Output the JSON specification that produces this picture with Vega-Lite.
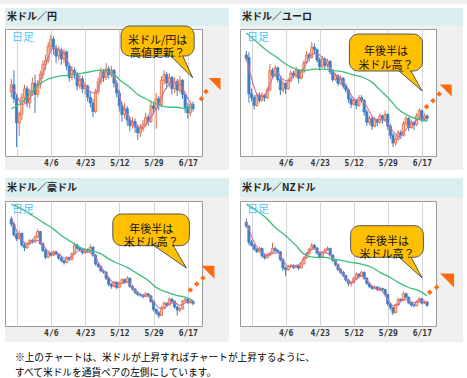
{
"$schema": "https://vega.github.io/schema/vega-lite/v6.json",
"padding": 0,
"background": "#f0f0f0",
"config": {"view": {"stroke": null}, "font": "Noto Sans CJK JP"},
"title": {"text": ["※上のチャートは、米ドルが上昇すればチャートが上昇するように、", "　すべて米ドルを通貨ペアの左側にしています。"], "orient": "bottom", "anchor": "start", "offset": -29, "dx": 15, "baseline": "top", "lineHeight": 15, "font": "Noto Sans CJK JP", "fontSize": 9.7, "fontWeight": "normal", "color": "#000000"},
"datasets": {
"c1": [
{"i":0,"o":97.4,"h":98.3,"l":97.0,"c":97.9},{"i":1,"o":97.9,"h":98.9,"l":96.6,"c":96.9},{"i":2,"o":96.9,"h":97.2,"l":93.5,"c":95.2},{"i":3,"o":95.2,"h":96.0,"l":94.3,"c":95.8},{"i":4,"o":95.8,"h":97.3,"l":95.4,"c":97.0},{"i":5,"o":97.0,"h":97.9,"l":96.6,"c":97.6},{"i":6,"o":97.6,"h":97.8,"l":96.3,"c":96.6},{"i":7,"o":96.6,"h":97.6,"l":96.2,"c":97.4},{"i":8,"o":97.4,"h":98.4,"l":97.1,"c":98.0},{"i":9,"o":98.0,"h":98.6,"l":95.9,"c":97.2},
{"i":10,"o":97.2,"h":98.2,"l":97.0,"c":97.9},{"i":11,"o":97.9,"h":98.9,"l":97.6,"c":98.6},{"i":12,"o":98.6,"h":99.6,"l":98.3,"c":99.3},{"i":13,"o":99.3,"h":100.0,"l":98.9,"c":99.6},{"i":14,"o":99.6,"h":100.9,"l":99.4,"c":100.6},{"i":15,"o":100.6,"h":101.4,"l":100.2,"c":101.1},{"i":16,"o":101.1,"h":101.3,"l":100.0,"c":100.4},{"i":17,"o":100.4,"h":100.7,"l":99.4,"c":99.9},{"i":18,"o":99.9,"h":100.6,"l":99.6,"c":100.3},{"i":19,"o":100.3,"h":100.5,"l":99.3,"c":99.7},
{"i":20,"o":99.7,"h":100.4,"l":99.4,"c":100.2},{"i":21,"o":100.2,"h":100.3,"l":98.9,"c":99.2},{"i":22,"o":99.2,"h":99.4,"l":98.1,"c":98.4},{"i":23,"o":98.4,"h":99.2,"l":98.2,"c":98.9},{"i":24,"o":98.9,"h":99.1,"l":98.3,"c":98.6},{"i":25,"o":98.6,"h":98.8,"l":97.5,"c":97.8},{"i":26,"o":97.8,"h":98.6,"l":97.6,"c":98.3},{"i":27,"o":98.3,"h":98.5,"l":97.3,"c":97.6},{"i":28,"o":97.6,"h":98.1,"l":97.2,"c":97.8},{"i":29,"o":97.8,"h":97.9,"l":96.7,"c":97.0},
{"i":30,"o":97.0,"h":97.4,"l":96.3,"c":96.6},{"i":31,"o":96.6,"h":96.9,"l":95.6,"c":96.0},{"i":32,"o":96.0,"h":97.6,"l":95.9,"c":97.4},{"i":33,"o":97.4,"h":98.4,"l":97.2,"c":98.1},{"i":34,"o":98.1,"h":99.1,"l":97.9,"c":98.8},{"i":35,"o":98.8,"h":99.0,"l":98.1,"c":98.4},{"i":36,"o":98.4,"h":99.4,"l":98.2,"c":99.0},{"i":37,"o":99.0,"h":99.2,"l":98.3,"c":98.6},{"i":38,"o":98.6,"h":99.2,"l":98.4,"c":98.9},{"i":39,"o":98.9,"h":99.0,"l":97.7,"c":98.0},
{"i":40,"o":98.0,"h":98.2,"l":97.0,"c":97.3},{"i":41,"o":97.3,"h":97.5,"l":96.0,"c":96.4},{"i":42,"o":96.4,"h":96.7,"l":95.3,"c":95.8},{"i":43,"o":95.8,"h":96.6,"l":95.5,"c":96.2},{"i":44,"o":96.2,"h":96.4,"l":95.0,"c":95.4},{"i":45,"o":95.4,"h":95.7,"l":94.6,"c":95.0},{"i":46,"o":95.0,"h":95.6,"l":94.8,"c":95.3},{"i":47,"o":95.3,"h":95.5,"l":94.5,"c":94.9},{"i":48,"o":94.9,"h":95.1,"l":94.0,"c":94.5},{"i":49,"o":94.5,"h":95.1,"l":94.2,"c":94.8},
{"i":50,"o":94.8,"h":95.4,"l":94.6,"c":95.1},{"i":51,"o":95.1,"h":95.9,"l":94.9,"c":95.6},{"i":52,"o":95.6,"h":95.8,"l":95.0,"c":95.3},{"i":53,"o":95.3,"h":96.8,"l":95.2,"c":96.4},{"i":54,"o":96.4,"h":96.7,"l":95.8,"c":96.2},{"i":55,"o":96.2,"h":97.3,"l":94.8,"c":96.9},{"i":56,"o":96.9,"h":97.1,"l":96.1,"c":96.5},{"i":57,"o":96.5,"h":98.5,"l":96.3,"c":98.2},{"i":58,"o":98.2,"h":98.9,"l":97.9,"c":98.6},{"i":59,"o":98.6,"h":98.8,"l":97.6,"c":98.0},
{"i":60,"o":98.0,"h":98.7,"l":97.7,"c":98.4},{"i":61,"o":98.4,"h":98.5,"l":97.2,"c":97.6},{"i":62,"o":97.6,"h":98.4,"l":97.3,"c":98.1},{"i":63,"o":98.1,"h":98.3,"l":97.1,"c":97.5},{"i":64,"o":97.5,"h":98.5,"l":97.3,"c":98.2},{"i":65,"o":98.2,"h":98.3,"l":96.9,"c":97.2},{"i":66,"o":97.2,"h":97.4,"l":95.9,"c":96.3},{"i":67,"o":96.3,"h":96.6,"l":95.5,"c":95.9},{"i":68,"o":95.9,"h":96.7,"l":95.7,"c":96.5},{"i":69,"o":96.5,"h":96.7,"l":96.0,"c":96.2}
],
"p1": [{"i":0,"v":97.7},{"i":2,"v":97.2},{"i":4,"v":96.5},{"i":6,"v":96.6},{"i":8,"v":97.3},{"i":10,"v":97.9},{"i":12,"v":98.7},{"i":14,"v":99.8},{"i":16,"v":100.5},{"i":18,"v":100.4},{"i":20,"v":100.1},{"i":22,"v":99.3},{"i":24,"v":98.7},{"i":26,"v":98.2},{"i":28,"v":97.8},{"i":30,"v":97.4},{"i":32,"v":97.3},{"i":34,"v":98.3},{"i":36,"v":98.8},{"i":38,"v":98.8},{"i":40,"v":97.9},{"i":42,"v":96.5},{"i":44,"v":95.8},{"i":46,"v":95.2},{"i":48,"v":94.9},{"i":50,"v":94.9},{"i":52,"v":95.3},{"i":54,"v":95.9},{"i":56,"v":96.5},{"i":58,"v":97.4},{"i":60,"v":97.9},{"i":62,"v":98.0},{"i":64,"v":97.9},{"i":66,"v":97.3},{"i":68,"v":96.6},{"i":69,"v":96.4}],
"g1": [{"i":0,"v":96.2},{"i":3,"v":96.5},{"i":6,"v":97.0},{"i":9,"v":97.6},{"i":12,"v":98.1},{"i":15,"v":98.35},{"i":18,"v":98.5},{"i":21,"v":98.55},{"i":24,"v":98.65},{"i":27,"v":98.7},{"i":30,"v":98.8},{"i":33,"v":98.9},{"i":36,"v":98.9},{"i":39,"v":98.6},{"i":42,"v":98.1},{"i":45,"v":97.7},{"i":48,"v":97.2},{"i":51,"v":96.9},{"i":54,"v":96.6},{"i":57,"v":96.4},{"i":60,"v":96.3},{"i":63,"v":96.3},{"i":66,"v":96.2},{"i":69,"v":96.4}],
"c2": [
{"i":0,"o":0.768,"h":0.771,"l":0.763,"c":0.765},{"i":1,"o":0.766,"h":0.770,"l":0.731,"c":0.738},{"i":2,"o":0.738,"h":0.742,"l":0.732,"c":0.735},{"i":3,"o":0.735,"h":0.737,"l":0.726,"c":0.729},{"i":4,"o":0.729,"h":0.739,"l":0.728,"c":0.737},{"i":5,"o":0.737,"h":0.739,"l":0.731,"c":0.733},{"i":6,"o":0.733,"h":0.739,"l":0.732,"c":0.737},{"i":7,"o":0.737,"h":0.738,"l":0.732,"c":0.735},{"i":8,"o":0.735,"h":0.743,"l":0.734,"c":0.741},{"i":9,"o":0.741,"h":0.761,"l":0.740,"c":0.756},
{"i":10,"o":0.756,"h":0.758,"l":0.750,"c":0.752},{"i":11,"o":0.752,"h":0.760,"l":0.751,"c":0.758},{"i":12,"o":0.758,"h":0.759,"l":0.747,"c":0.749},{"i":13,"o":0.749,"h":0.751,"l":0.737,"c":0.741},{"i":14,"o":0.741,"h":0.748,"l":0.739,"c":0.746},{"i":15,"o":0.746,"h":0.747,"l":0.738,"c":0.742},{"i":16,"o":0.742,"h":0.750,"l":0.741,"c":0.748},{"i":17,"o":0.748,"h":0.756,"l":0.747,"c":0.754},{"i":18,"o":0.754,"h":0.756,"l":0.750,"c":0.752},{"i":19,"o":0.752,"h":0.759,"l":0.750,"c":0.756},
{"i":20,"o":0.756,"h":0.757,"l":0.746,"c":0.750},{"i":21,"o":0.750,"h":0.757,"l":0.749,"c":0.755},{"i":22,"o":0.755,"h":0.764,"l":0.754,"c":0.762},{"i":23,"o":0.762,"h":0.771,"l":0.761,"c":0.768},{"i":24,"o":0.768,"h":0.770,"l":0.763,"c":0.766},{"i":25,"o":0.766,"h":0.778,"l":0.765,"c":0.774},{"i":26,"o":0.774,"h":0.777,"l":0.769,"c":0.772},{"i":27,"o":0.772,"h":0.773,"l":0.762,"c":0.764},{"i":28,"o":0.764,"h":0.766,"l":0.756,"c":0.759},{"i":29,"o":0.759,"h":0.767,"l":0.758,"c":0.765},
{"i":30,"o":0.765,"h":0.766,"l":0.757,"c":0.760},{"i":31,"o":0.760,"h":0.765,"l":0.758,"c":0.763},{"i":32,"o":0.763,"h":0.764,"l":0.753,"c":0.755},{"i":33,"o":0.755,"h":0.757,"l":0.747,"c":0.749},{"i":34,"o":0.749,"h":0.754,"l":0.748,"c":0.752},{"i":35,"o":0.752,"h":0.753,"l":0.744,"c":0.746},{"i":36,"o":0.746,"h":0.752,"l":0.745,"c":0.750},{"i":37,"o":0.750,"h":0.751,"l":0.742,"c":0.744},{"i":38,"o":0.744,"h":0.746,"l":0.739,"c":0.741},{"i":39,"o":0.741,"h":0.742,"l":0.731,"c":0.734},
{"i":40,"o":0.734,"h":0.736,"l":0.727,"c":0.730},{"i":41,"o":0.730,"h":0.735,"l":0.729,"c":0.733},{"i":42,"o":0.733,"h":0.734,"l":0.726,"c":0.729},{"i":43,"o":0.729,"h":0.737,"l":0.728,"c":0.735},{"i":44,"o":0.735,"h":0.737,"l":0.731,"c":0.733},{"i":45,"o":0.733,"h":0.734,"l":0.721,"c":0.724},{"i":46,"o":0.724,"h":0.726,"l":0.713,"c":0.716},{"i":47,"o":0.716,"h":0.721,"l":0.714,"c":0.719},{"i":48,"o":0.719,"h":0.720,"l":0.710,"c":0.713},{"i":49,"o":0.713,"h":0.720,"l":0.712,"c":0.718},
{"i":50,"o":0.718,"h":0.719,"l":0.713,"c":0.716},{"i":51,"o":0.716,"h":0.723,"l":0.715,"c":0.721},{"i":52,"o":0.721,"h":0.722,"l":0.715,"c":0.718},{"i":53,"o":0.718,"h":0.725,"l":0.717,"c":0.722},{"i":54,"o":0.722,"h":0.723,"l":0.710,"c":0.713},{"i":55,"o":0.713,"h":0.715,"l":0.703,"c":0.706},{"i":56,"o":0.706,"h":0.708,"l":0.697,"c":0.700},{"i":57,"o":0.700,"h":0.705,"l":0.698,"c":0.703},{"i":58,"o":0.703,"h":0.710,"l":0.702,"c":0.708},{"i":59,"o":0.708,"h":0.710,"l":0.703,"c":0.706},
{"i":60,"o":0.706,"h":0.717,"l":0.705,"c":0.715},{"i":61,"o":0.715,"h":0.721,"l":0.713,"c":0.719},{"i":62,"o":0.719,"h":0.720,"l":0.709,"c":0.712},{"i":63,"o":0.712,"h":0.718,"l":0.711,"c":0.716},{"i":64,"o":0.716,"h":0.717,"l":0.710,"c":0.714},{"i":65,"o":0.714,"h":0.723,"l":0.713,"c":0.721},{"i":66,"o":0.721,"h":0.727,"l":0.719,"c":0.725},{"i":67,"o":0.725,"h":0.726,"l":0.716,"c":0.718},{"i":68,"o":0.718,"h":0.723,"l":0.717,"c":0.721},{"i":69,"o":0.721,"h":0.722,"l":0.717,"c":0.719}
],
"p2": [{"i":0,"v":0.766},{"i":2,"v":0.750},{"i":4,"v":0.738},{"i":6,"v":0.736},{"i":8,"v":0.740},{"i":10,"v":0.750},{"i":12,"v":0.754},{"i":14,"v":0.749},{"i":16,"v":0.748},{"i":18,"v":0.752},{"i":20,"v":0.753},{"i":22,"v":0.758},{"i":24,"v":0.766},{"i":26,"v":0.769},{"i":28,"v":0.768},{"i":30,"v":0.763},{"i":32,"v":0.758},{"i":34,"v":0.753},{"i":36,"v":0.749},{"i":38,"v":0.745},{"i":40,"v":0.737},{"i":42,"v":0.733},{"i":44,"v":0.733},{"i":46,"v":0.728},{"i":48,"v":0.721},{"i":50,"v":0.718},{"i":52,"v":0.718},{"i":54,"v":0.715},{"i":56,"v":0.709},{"i":58,"v":0.705},{"i":60,"v":0.708},{"i":62,"v":0.713},{"i":64,"v":0.716},{"i":66,"v":0.719},{"i":68,"v":0.719},{"i":69,"v":0.719}],
"g2": [{"i":0,"v":0.785},{"i":4,"v":0.778},{"i":8,"v":0.771},{"i":11,"v":0.767},{"i":15,"v":0.761},{"i":19,"v":0.757},{"i":22,"v":0.756},{"i":26,"v":0.757},{"i":30,"v":0.757},{"i":33,"v":0.756},{"i":37,"v":0.755},{"i":40,"v":0.753},{"i":44,"v":0.751},{"i":48,"v":0.747},{"i":51,"v":0.741},{"i":55,"v":0.733},{"i":58,"v":0.726},{"i":62,"v":0.721},{"i":66,"v":0.718},{"i":69,"v":0.717}],
"c3": [
{"i":0,"o":1.505,"h":1.512,"l":1.482,"c":1.490},{"i":1,"o":1.490,"h":1.495,"l":1.452,"c":1.458},{"i":2,"o":1.458,"h":1.464,"l":1.440,"c":1.447},{"i":3,"o":1.447,"h":1.470,"l":1.444,"c":1.462},{"i":4,"o":1.462,"h":1.465,"l":1.422,"c":1.428},{"i":5,"o":1.428,"h":1.434,"l":1.410,"c":1.420},{"i":6,"o":1.420,"h":1.436,"l":1.417,"c":1.432},{"i":7,"o":1.432,"h":1.446,"l":1.428,"c":1.441},{"i":8,"o":1.441,"h":1.446,"l":1.432,"c":1.437},{"i":9,"o":1.437,"h":1.456,"l":1.434,"c":1.452},
{"i":10,"o":1.452,"h":1.475,"l":1.448,"c":1.468},{"i":11,"o":1.468,"h":1.470,"l":1.428,"c":1.432},{"i":12,"o":1.432,"h":1.436,"l":1.407,"c":1.412},{"i":13,"o":1.412,"h":1.416,"l":1.386,"c":1.392},{"i":14,"o":1.392,"h":1.409,"l":1.389,"c":1.404},{"i":15,"o":1.404,"h":1.407,"l":1.394,"c":1.398},{"i":16,"o":1.398,"h":1.412,"l":1.396,"c":1.408},{"i":17,"o":1.408,"h":1.411,"l":1.398,"c":1.402},{"i":18,"o":1.402,"h":1.404,"l":1.384,"c":1.389},{"i":19,"o":1.389,"h":1.393,"l":1.377,"c":1.382},
{"i":20,"o":1.382,"h":1.386,"l":1.370,"c":1.376},{"i":21,"o":1.376,"h":1.395,"l":1.374,"c":1.391},{"i":22,"o":1.391,"h":1.394,"l":1.381,"c":1.385},{"i":23,"o":1.385,"h":1.406,"l":1.383,"c":1.402},{"i":24,"o":1.402,"h":1.435,"l":1.400,"c":1.428},{"i":25,"o":1.428,"h":1.432,"l":1.414,"c":1.419},{"i":26,"o":1.419,"h":1.423,"l":1.409,"c":1.414},{"i":27,"o":1.414,"h":1.417,"l":1.400,"c":1.405},{"i":28,"o":1.405,"h":1.419,"l":1.403,"c":1.415},{"i":29,"o":1.415,"h":1.418,"l":1.405,"c":1.410},
{"i":30,"o":1.410,"h":1.430,"l":1.408,"c":1.422},{"i":31,"o":1.422,"h":1.424,"l":1.393,"c":1.398},{"i":32,"o":1.398,"h":1.401,"l":1.367,"c":1.372},{"i":33,"o":1.372,"h":1.376,"l":1.360,"c":1.365},{"i":34,"o":1.365,"h":1.368,"l":1.347,"c":1.352},{"i":35,"o":1.352,"h":1.356,"l":1.343,"c":1.348},{"i":36,"o":1.348,"h":1.351,"l":1.325,"c":1.330},{"i":37,"o":1.330,"h":1.334,"l":1.306,"c":1.312},{"i":38,"o":1.312,"h":1.316,"l":1.299,"c":1.306},{"i":39,"o":1.306,"h":1.322,"l":1.303,"c":1.318},
{"i":40,"o":1.318,"h":1.321,"l":1.298,"c":1.303},{"i":41,"o":1.303,"h":1.320,"l":1.301,"c":1.316},{"i":42,"o":1.316,"h":1.330,"l":1.313,"c":1.326},{"i":43,"o":1.326,"h":1.329,"l":1.314,"c":1.318},{"i":44,"o":1.318,"h":1.336,"l":1.316,"c":1.330},{"i":45,"o":1.330,"h":1.332,"l":1.302,"c":1.306},{"i":46,"o":1.306,"h":1.310,"l":1.293,"c":1.298},{"i":47,"o":1.298,"h":1.301,"l":1.283,"c":1.288},{"i":48,"o":1.288,"h":1.292,"l":1.277,"c":1.282},{"i":49,"o":1.282,"h":1.286,"l":1.275,"c":1.280},
{"i":50,"o":1.280,"h":1.283,"l":1.270,"c":1.276},{"i":51,"o":1.276,"h":1.290,"l":1.274,"c":1.284},{"i":52,"o":1.284,"h":1.287,"l":1.273,"c":1.278},{"i":53,"o":1.278,"h":1.280,"l":1.257,"c":1.262},{"i":54,"o":1.262,"h":1.265,"l":1.232,"c":1.238},{"i":55,"o":1.238,"h":1.241,"l":1.222,"c":1.228},{"i":56,"o":1.228,"h":1.233,"l":1.212,"c":1.220},{"i":57,"o":1.220,"h":1.247,"l":1.218,"c":1.242},{"i":58,"o":1.242,"h":1.262,"l":1.240,"c":1.256},{"i":59,"o":1.256,"h":1.259,"l":1.246,"c":1.251},
{"i":60,"o":1.251,"h":1.274,"l":1.249,"c":1.268},{"i":61,"o":1.268,"h":1.272,"l":1.257,"c":1.262},{"i":62,"o":1.262,"h":1.265,"l":1.240,"c":1.245},{"i":63,"o":1.245,"h":1.249,"l":1.220,"c":1.236},{"i":64,"o":1.236,"h":1.245,"l":1.230,"c":1.240},{"i":65,"o":1.240,"h":1.266,"l":1.238,"c":1.262},{"i":66,"o":1.262,"h":1.273,"l":1.259,"c":1.268},{"i":67,"o":1.268,"h":1.270,"l":1.254,"c":1.258},{"i":68,"o":1.258,"h":1.266,"l":1.255,"c":1.262},{"i":69,"o":1.262,"h":1.264,"l":1.250,"c":1.255}
],
"p3": [{"i":0,"v":1.510},{"i":2,"v":1.470},{"i":4,"v":1.443},{"i":6,"v":1.432},{"i":8,"v":1.438},{"i":10,"v":1.442},{"i":12,"v":1.428},{"i":14,"v":1.410},{"i":16,"v":1.402},{"i":18,"v":1.400},{"i":20,"v":1.390},{"i":22,"v":1.388},{"i":24,"v":1.404},{"i":26,"v":1.411},{"i":28,"v":1.408},{"i":30,"v":1.405},{"i":32,"v":1.392},{"i":34,"v":1.362},{"i":36,"v":1.343},{"i":38,"v":1.322},{"i":40,"v":1.310},{"i":42,"v":1.314},{"i":44,"v":1.318},{"i":46,"v":1.302},{"i":48,"v":1.286},{"i":50,"v":1.280},{"i":52,"v":1.278},{"i":54,"v":1.262},{"i":56,"v":1.243},{"i":58,"v":1.240},{"i":60,"v":1.255},{"i":62,"v":1.258},{"i":64,"v":1.250},{"i":66,"v":1.257},{"i":68,"v":1.263},{"i":69,"v":1.258}],
"g3": [{"i":0,"v":1.549},{"i":5,"v":1.530},{"i":8,"v":1.515},{"i":12,"v":1.495},{"i":16,"v":1.475},{"i":19,"v":1.456},{"i":23,"v":1.436},{"i":26,"v":1.421},{"i":30,"v":1.411},{"i":34,"v":1.402},{"i":37,"v":1.387},{"i":41,"v":1.372},{"i":44,"v":1.362},{"i":48,"v":1.343},{"i":52,"v":1.323},{"i":55,"v":1.303},{"i":59,"v":1.289},{"i":63,"v":1.279},{"i":66,"v":1.274},{"i":69,"v":1.264}],
"c4": [
{"i":0,"o":1.890,"h":1.905,"l":1.868,"c":1.875},{"i":1,"o":1.875,"h":1.880,"l":1.800,"c":1.812},{"i":2,"o":1.812,"h":1.822,"l":1.795,"c":1.800},{"i":3,"o":1.800,"h":1.806,"l":1.780,"c":1.785},{"i":4,"o":1.785,"h":1.790,"l":1.770,"c":1.776},{"i":5,"o":1.776,"h":1.795,"l":1.772,"c":1.788},{"i":6,"o":1.788,"h":1.792,"l":1.750,"c":1.760},{"i":7,"o":1.760,"h":1.765,"l":1.744,"c":1.752},{"i":8,"o":1.752,"h":1.768,"l":1.748,"c":1.762},{"i":9,"o":1.762,"h":1.776,"l":1.758,"c":1.770},
{"i":10,"o":1.770,"h":1.810,"l":1.766,"c":1.788},{"i":11,"o":1.788,"h":1.795,"l":1.774,"c":1.780},{"i":12,"o":1.780,"h":1.786,"l":1.770,"c":1.775},{"i":13,"o":1.775,"h":1.778,"l":1.738,"c":1.745},{"i":14,"o":1.745,"h":1.750,"l":1.700,"c":1.712},{"i":15,"o":1.712,"h":1.718,"l":1.680,"c":1.705},{"i":16,"o":1.705,"h":1.724,"l":1.702,"c":1.718},{"i":17,"o":1.718,"h":1.728,"l":1.712,"c":1.722},{"i":18,"o":1.722,"h":1.726,"l":1.708,"c":1.714},{"i":19,"o":1.714,"h":1.726,"l":1.710,"c":1.720},
{"i":20,"o":1.720,"h":1.724,"l":1.704,"c":1.712},{"i":21,"o":1.712,"h":1.734,"l":1.709,"c":1.728},{"i":22,"o":1.728,"h":1.758,"l":1.725,"c":1.752},{"i":23,"o":1.752,"h":1.774,"l":1.748,"c":1.768},{"i":24,"o":1.768,"h":1.790,"l":1.764,"c":1.785},{"i":25,"o":1.785,"h":1.810,"l":1.782,"c":1.800},{"i":26,"o":1.800,"h":1.806,"l":1.784,"c":1.790},{"i":27,"o":1.790,"h":1.794,"l":1.764,"c":1.770},{"i":28,"o":1.770,"h":1.774,"l":1.748,"c":1.755},{"i":29,"o":1.755,"h":1.778,"l":1.752,"c":1.772},
{"i":30,"o":1.772,"h":1.788,"l":1.768,"c":1.782},{"i":31,"o":1.782,"h":1.796,"l":1.778,"c":1.788},{"i":32,"o":1.788,"h":1.792,"l":1.756,"c":1.762},{"i":33,"o":1.762,"h":1.766,"l":1.736,"c":1.742},{"i":34,"o":1.742,"h":1.746,"l":1.718,"c":1.725},{"i":35,"o":1.725,"h":1.730,"l":1.700,"c":1.706},{"i":36,"o":1.706,"h":1.712,"l":1.688,"c":1.695},{"i":37,"o":1.695,"h":1.700,"l":1.676,"c":1.682},{"i":38,"o":1.682,"h":1.686,"l":1.658,"c":1.665},{"i":39,"o":1.665,"h":1.670,"l":1.642,"c":1.652},
{"i":40,"o":1.652,"h":1.662,"l":1.640,"c":1.655},{"i":41,"o":1.655,"h":1.678,"l":1.652,"c":1.672},{"i":42,"o":1.672,"h":1.694,"l":1.668,"c":1.688},{"i":43,"o":1.688,"h":1.692,"l":1.674,"c":1.680},{"i":44,"o":1.680,"h":1.702,"l":1.677,"c":1.695},{"i":45,"o":1.695,"h":1.698,"l":1.666,"c":1.672},{"i":46,"o":1.672,"h":1.676,"l":1.646,"c":1.652},{"i":47,"o":1.652,"h":1.656,"l":1.634,"c":1.640},{"i":48,"o":1.640,"h":1.644,"l":1.626,"c":1.632},{"i":49,"o":1.632,"h":1.644,"l":1.628,"c":1.638},
{"i":50,"o":1.638,"h":1.641,"l":1.622,"c":1.628},{"i":51,"o":1.628,"h":1.640,"l":1.625,"c":1.632},{"i":52,"o":1.632,"h":1.636,"l":1.622,"c":1.628},{"i":53,"o":1.628,"h":1.631,"l":1.600,"c":1.608},{"i":54,"o":1.608,"h":1.612,"l":1.565,"c":1.572},{"i":55,"o":1.572,"h":1.578,"l":1.548,"c":1.558},{"i":56,"o":1.558,"h":1.562,"l":1.528,"c":1.538},{"i":57,"o":1.538,"h":1.574,"l":1.535,"c":1.568},{"i":58,"o":1.568,"h":1.596,"l":1.564,"c":1.590},{"i":59,"o":1.590,"h":1.594,"l":1.578,"c":1.585},
{"i":60,"o":1.585,"h":1.620,"l":1.582,"c":1.612},{"i":61,"o":1.612,"h":1.616,"l":1.592,"c":1.598},{"i":62,"o":1.598,"h":1.601,"l":1.570,"c":1.576},{"i":63,"o":1.576,"h":1.580,"l":1.560,"c":1.568},{"i":64,"o":1.568,"h":1.574,"l":1.558,"c":1.565},{"i":65,"o":1.565,"h":1.586,"l":1.562,"c":1.580},{"i":66,"o":1.580,"h":1.598,"l":1.576,"c":1.592},{"i":67,"o":1.592,"h":1.595,"l":1.570,"c":1.575},{"i":68,"o":1.575,"h":1.586,"l":1.572,"c":1.580},{"i":69,"o":1.580,"h":1.583,"l":1.560,"c":1.566}
],
"p4": [{"i":0,"v":1.890},{"i":2,"v":1.835},{"i":4,"v":1.795},{"i":6,"v":1.775},{"i":8,"v":1.762},{"i":10,"v":1.768},{"i":12,"v":1.772},{"i":14,"v":1.742},{"i":16,"v":1.718},{"i":18,"v":1.718},{"i":20,"v":1.725},{"i":22,"v":1.748},{"i":24,"v":1.778},{"i":26,"v":1.786},{"i":28,"v":1.774},{"i":30,"v":1.773},{"i":32,"v":1.762},{"i":34,"v":1.738},{"i":36,"v":1.700},{"i":38,"v":1.670},{"i":40,"v":1.656},{"i":42,"v":1.668},{"i":44,"v":1.682},{"i":46,"v":1.665},{"i":48,"v":1.642},{"i":50,"v":1.628},{"i":52,"v":1.620},{"i":54,"v":1.590},{"i":56,"v":1.566},{"i":58,"v":1.572},{"i":60,"v":1.590},{"i":62,"v":1.584},{"i":64,"v":1.577},{"i":66,"v":1.584},{"i":68,"v":1.578},{"i":69,"v":1.572}],
"g4": [{"i":0,"v":1.961},{"i":4,"v":1.935},{"i":8,"v":1.903},{"i":11,"v":1.870},{"i":15,"v":1.838},{"i":19,"v":1.799},{"i":22,"v":1.766},{"i":26,"v":1.753},{"i":30,"v":1.753},{"i":33,"v":1.747},{"i":37,"v":1.740},{"i":40,"v":1.734},{"i":44,"v":1.727},{"i":48,"v":1.714},{"i":51,"v":1.695},{"i":55,"v":1.675},{"i":58,"v":1.656},{"i":62,"v":1.636},{"i":66,"v":1.623},{"i":69,"v":1.604}]
},
"columns": 5,
"spacing": 0,
"bounds": "flush",
"align": "each",
"concat": [
{"width":5,"height":4,"view":{"fill":"#ffffff","stroke":null},"data":{"values":[{}]},"mark":"text","encoding":{"text":{"value":""}}},
{"width":224,"height":4,"view":{"fill":"#ffffff","stroke":null},"data":{"values":[{}]},"mark":"text","encoding":{"text":{"value":""}}},
{"width":11,"height":4,"view":{"fill":"#ffffff","stroke":null},"data":{"values":[{}]},"mark":"text","encoding":{"text":{"value":""}}},
{"width":223,"height":4,"view":{"fill":"#ffffff","stroke":null},"data":{"values":[{}]},"mark":"text","encoding":{"text":{"value":""}}},
{"width":4,"height":4,"view":{"fill":"#ffffff","stroke":null},"data":{"values":[{}]},"mark":"text","encoding":{"text":{"value":""}}},

{"width":5,"height":18,"view":{"fill":"#ffffff","stroke":null},"data":{"values":[{}]},"mark":"text","encoding":{"text":{"value":""}}},
{"width": 224, "height": 18, "view": {"fill": "#dbeef0", "stroke": null},
 "title": {"text": "米ドル／円", "orient": "bottom", "anchor": "start", "offset": -9, "dx": 2, "baseline": "middle", "font": "Noto Sans CJK JP", "fontSize": 10, "fontWeight": "bold", "color": "#222222"},
 "data": {"values": [{}]}, "mark": "text", "encoding": {"text": {"value": ""}}},
{"width":11,"height":18,"view":{"fill":"#ffffff","stroke":null},"data":{"values":[{}]},"mark":"text","encoding":{"text":{"value":""}}},
{"width": 223, "height": 18, "view": {"fill": "#dbeef0", "stroke": null},
 "title": {"text": "米ドル／ユーロ", "orient": "bottom", "anchor": "start", "offset": -9, "dx": 2, "baseline": "middle", "font": "Noto Sans CJK JP", "fontSize": 10, "fontWeight": "bold", "color": "#222222"},
 "data": {"values": [{}]}, "mark": "text", "encoding": {"text": {"value": ""}}},
{"width":4,"height":18,"view":{"fill":"#ffffff","stroke":null},"data":{"values":[{}]},"mark":"text","encoding":{"text":{"value":""}}},

{"width":5,"height":3,"view":{"fill":"#ffffff","stroke":null},"data":{"values":[{}]},"mark":"text","encoding":{"text":{"value":""}}},
{"width":224,"height":3,"view":{"stroke":null},"data":{"values":[{}]},"mark":"text","encoding":{"text":{"value":""}}},
{"width":11,"height":3,"view":{"fill":"#ffffff","stroke":null},"data":{"values":[{}]},"mark":"text","encoding":{"text":{"value":""}}},
{"width":223,"height":3,"view":{"stroke":null},"data":{"values":[{}]},"mark":"text","encoding":{"text":{"value":""}}},
{"width":4,"height":3,"view":{"fill":"#ffffff","stroke":null},"data":{"values":[{}]},"mark":"text","encoding":{"text":{"value":""}}},

{"width":5,"height":127,"view":{"fill":"#ffffff","stroke":null},"data":{"values":[{}]},"mark":"text","encoding":{"text":{"value":""}}},
{"width": 197, "height": 127, "view": {"fill": "#ffffff", "stroke": "#9a9a9a"},
 "encoding": {
  "x": {"field": "i", "type": "quantitative", "scale": {"domain": [-0.5, 70.5], "nice": false, "zero": false},
   "axis": {"values": [2, 15, 28, 41, 54, 67], "labelExpr": "datum.value == 15 ? '4/6' : datum.value == 28 ? '4/23' : datum.value == 41 ? '5/12' : datum.value == 54 ? '5/29' : datum.value == 67 ? '6/17' : ''", "title": null, "grid": true, "gridColor": "#d6d6d6", "ticks": false, "domain": false, "labelFont": "DejaVu Sans Mono", "labelFontSize": 8, "labelFontWeight": "bold", "labelColor": "#333333", "labelPadding": 3, "labelFlush": false, "labelOverlap": false}},
  "y": {"field": "v", "type": "quantitative", "scale": {"domain": [92.87, 101.81], "nice": false, "zero": false},
   "axis": {"orient": "right", "values": [94, 96, 98, 100], "format": "d", "title": null, "grid": true, "gridColor": "#d6d6d6", "ticks": false, "domain": false, "labelFont": "DejaVu Sans Mono", "labelFontSize": 8, "labelFontWeight": "bold", "labelColor": "#333333", "labelPadding": 2, "labelOverlap": false}}
 },
 "layer": [
  {"data": {"name": "c1"}, "mark": {"type": "rule", "strokeWidth": 1}, "encoding": {"y": {"field": "l", "type": "quantitative", "scale": {"domain": [92.87, 101.81], "nice": false, "zero": false}, "axis": null}, "y2": {"field": "h"}, "color": {"condition": {"test": "datum.c >= datum.o", "value": "#e5683d"}, "value": "#3d7fc6"}}},
  {"data": {"name": "c1"}, "mark": {"type": "bar", "size": 2.2, "orient": "vertical", "strokeWidth": 0.8}, "encoding": {"y": {"field": "o", "type": "quantitative", "scale": {"domain": [92.87, 101.81], "nice": false, "zero": false}, "axis": null}, "y2": {"field": "c"}, "fill": {"condition": {"test": "datum.c >= datum.o", "value": "#f7c0ad"}, "value": "#3d7fc6"}, "stroke": {"condition": {"test": "datum.c >= datum.o", "value": "#e5683d"}, "value": "#3d7fc6"}}},
  {"data": {"name": "p1"}, "mark": {"type": "line", "color": "#cf6f9e", "strokeWidth": 1.1, "interpolate": "monotone"}, "encoding": {}},
  {"data": {"name": "g1"}, "mark": {"type": "line", "color": "#3dbf7a", "strokeWidth": 1.3, "interpolate": "monotone"}, "encoding": {}},
  {"data": {"values": [{"i": -0.5, "v": 101.81, "t": "日足"}]}, "mark": {"type": "text", "align": "left", "baseline": "top", "dx": 2, "dy": 3, "font": "Noto Sans CJK JP", "fontSize": 11, "color": "#4fc3f7"}, "encoding": {"text": {"field": "t"}}},
  {"data": {"values": [{"i": 64.73, "v": 99.135}]}, "mark": {"type": "point", "shape": "M -1 -1 L 0.09 -1 L 1 1 Z", "size": 484, "filled": true, "color": "#ffc000", "stroke": "#555555", "strokeWidth": 1, "opacity": 1}},
  {"data": {"values": [{"i": 41.66, "i2": 69.41, "v": 102.02, "v2": 99.91}]}, "mark": {"type": "rect", "fill": "#ffc000", "stroke": "#555555", "strokeWidth": 1, "cornerRadius": 9}, "encoding": {"x2": {"field": "i2"}, "y2": {"field": "v2"}}},
  {"data": {"values": [{"i": 64.73, "v": 99.135}]}, "mark": {"type": "point", "shape": "M -0.75 -1.12 L -0.05 -1.12 L 0.35 0.1 Z", "size": 484, "filled": true, "color": "#ffc000", "strokeWidth": 0, "opacity": 1}},
  {"data": {"values": [{"i": 55.54, "v": 100.97, "t": "米ドル/円は\n高値更新？"}]}, "mark": {"type": "text", "lineBreak": "\n", "font": "Noto Sans CJK JP", "fontSize": 11, "lineHeight": 13.5, "color": "#111111"}, "encoding": {"text": {"field": "t"}}},
  {"data": {"values": [{"i": 72.18, "v": 96.90}, {"i": 73.91, "v": 97.41}]}, "mark": {"type": "point", "shape": "diamond", "size": 30, "filled": true, "color": "#ff6a10", "opacity": 1}},
  {"data": {"values": [{"i": 77.16, "v": 97.94}]}, "mark": {"type": "point", "shape": "M -1 -1 L 1 -1 L 1 1 Z", "size": 144, "filled": true, "color": "#ff6a10", "opacity": 1}}
 ]},
{"width":11,"height":127,"view":{"fill":"#ffffff","stroke":null},"data":{"values":[{}]},"mark":"text","encoding":{"text":{"value":""}}},
{"width": 196, "height": 127, "view": {"fill": "#ffffff", "stroke": "#9a9a9a"},
 "encoding": {
  "x": {"field": "i", "type": "quantitative", "scale": {"domain": [-0.5, 70.5], "nice": false, "zero": false},
   "axis": {"values": [2, 15, 28, 41, 54, 67], "labelExpr": "datum.value == 15 ? '4/6' : datum.value == 28 ? '4/23' : datum.value == 41 ? '5/12' : datum.value == 54 ? '5/29' : datum.value == 67 ? '6/17' : ''", "title": null, "grid": true, "gridColor": "#d6d6d6", "ticks": false, "domain": false, "labelFont": "DejaVu Sans Mono", "labelFontSize": 8, "labelFontWeight": "bold", "labelColor": "#333333", "labelPadding": 3, "labelFlush": false, "labelOverlap": false}},
  "y": {"field": "v", "type": "quantitative", "scale": {"domain": [0.690, 0.788], "nice": false, "zero": false},
   "axis": {"orient": "right", "values": [0.71, 0.73, 0.75, 0.77], "format": ".2f", "title": null, "grid": true, "gridColor": "#d6d6d6", "ticks": false, "domain": false, "labelFont": "DejaVu Sans Mono", "labelFontSize": 8, "labelFontWeight": "bold", "labelColor": "#333333", "labelPadding": 2, "labelOverlap": false}}
 },
 "layer": [
  {"data": {"name": "c2"}, "mark": {"type": "rule", "strokeWidth": 1}, "encoding": {"y": {"field": "l", "type": "quantitative", "scale": {"domain": [0.690, 0.788], "nice": false, "zero": false}, "axis": null}, "y2": {"field": "h"}, "color": {"condition": {"test": "datum.c >= datum.o", "value": "#e5683d"}, "value": "#3d7fc6"}}},
  {"data": {"name": "c2"}, "mark": {"type": "bar", "size": 2.2, "orient": "vertical", "strokeWidth": 0.8}, "encoding": {"y": {"field": "o", "type": "quantitative", "scale": {"domain": [0.690, 0.788], "nice": false, "zero": false}, "axis": null}, "y2": {"field": "c"}, "fill": {"condition": {"test": "datum.c >= datum.o", "value": "#f7c0ad"}, "value": "#3d7fc6"}, "stroke": {"condition": {"test": "datum.c >= datum.o", "value": "#e5683d"}, "value": "#3d7fc6"}}},
  {"data": {"name": "p2"}, "mark": {"type": "line", "color": "#cf6f9e", "strokeWidth": 1.1, "interpolate": "monotone"}, "encoding": {}},
  {"data": {"name": "g2"}, "mark": {"type": "line", "color": "#3dbf7a", "strokeWidth": 1.3, "interpolate": "monotone"}, "encoding": {}},
  {"data": {"values": [{"i": -0.5, "v": 0.788, "t": "日足"}]}, "mark": {"type": "text", "align": "left", "baseline": "top", "dx": 2, "dy": 3, "font": "Noto Sans CJK JP", "fontSize": 11, "color": "#4fc3f7"}, "encoding": {"text": {"field": "t"}}},
  {"data": {"values": [{"i": 62.70, "v": 0.7479}]}, "mark": {"type": "point", "shape": "M -1 -0.87 L 0.04 -0.87 L 1 0.87 Z", "size": 529, "filled": true, "color": "#ffc000", "stroke": "#555555", "strokeWidth": 1, "opacity": 1}},
  {"data": {"values": [{"i": 39.34, "i2": 67.23, "v": 0.7841, "v2": 0.7556}]}, "mark": {"type": "rect", "fill": "#ffc000", "stroke": "#555555", "strokeWidth": 1, "cornerRadius": 9}, "encoding": {"x2": {"field": "i2"}, "y2": {"field": "v2"}}},
  {"data": {"values": [{"i": 62.70, "v": 0.7479}]}, "mark": {"type": "point", "shape": "M -0.75 -0.98 L -0.08 -0.98 L 0.3 0.1 Z", "size": 529, "filled": true, "color": "#ffc000", "strokeWidth": 0, "opacity": 1}},
  {"data": {"values": [{"i": 53.28, "v": 0.7699, "t": "年後半は\n米ドル高？"}]}, "mark": {"type": "text", "lineBreak": "\n", "font": "Noto Sans CJK JP", "fontSize": 11, "lineHeight": 13.5, "color": "#111111"}, "encoding": {"text": {"field": "t"}}},
  {"data": {"values": [{"i": 68.79, "v": 0.7280}, {"i": 71.21, "v": 0.7327}, {"i": 73.64, "v": 0.7378}]}, "mark": {"type": "point", "shape": "diamond", "size": 30, "filled": true, "color": "#ff6a10", "opacity": 1}},
  {"data": {"values": [{"i": 76.10, "v": 0.7405}]}, "mark": {"type": "point", "shape": "M -1 -1 L 1 -1 L 1 1 Z", "size": 144, "filled": true, "color": "#ff6a10", "opacity": 1}}
 ]},
{"width":4,"height":127,"view":{"fill":"#ffffff","stroke":null},"data":{"values":[{}]},"mark":"text","encoding":{"text":{"value":""}}},

{"width":5,"height":14,"view":{"fill":"#ffffff","stroke":null},"data":{"values":[{}]},"mark":"text","encoding":{"text":{"value":""}}},
{"width":224,"height":14,"view":{"stroke":null},"data":{"values":[{}]},"mark":"text","encoding":{"text":{"value":""}}},
{"width":11,"height":14,"view":{"fill":"#ffffff","stroke":null},"data":{"values":[{}]},"mark":"text","encoding":{"text":{"value":""}}},
{"width":223,"height":14,"view":{"stroke":null},"data":{"values":[{}]},"mark":"text","encoding":{"text":{"value":""}}},
{"width":4,"height":14,"view":{"fill":"#ffffff","stroke":null},"data":{"values":[{}]},"mark":"text","encoding":{"text":{"value":""}}},

{"width":5,"height":8,"view":{"fill":"#ffffff","stroke":null},"data":{"values":[{}]},"mark":"text","encoding":{"text":{"value":""}}},
{"width":224,"height":8,"view":{"fill":"#ffffff","stroke":null},"data":{"values":[{}]},"mark":"text","encoding":{"text":{"value":""}}},
{"width":11,"height":8,"view":{"fill":"#ffffff","stroke":null},"data":{"values":[{}]},"mark":"text","encoding":{"text":{"value":""}}},
{"width":223,"height":8,"view":{"fill":"#ffffff","stroke":null},"data":{"values":[{}]},"mark":"text","encoding":{"text":{"value":""}}},
{"width":4,"height":8,"view":{"fill":"#ffffff","stroke":null},"data":{"values":[{}]},"mark":"text","encoding":{"text":{"value":""}}},

{"width":5,"height":19,"view":{"fill":"#ffffff","stroke":null},"data":{"values":[{}]},"mark":"text","encoding":{"text":{"value":""}}},
{"width": 224, "height": 19, "view": {"fill": "#dbeef0", "stroke": null},
 "title": {"text": "米ドル／豪ドル", "orient": "bottom", "anchor": "start", "offset": -9.5, "dx": 2, "baseline": "middle", "font": "Noto Sans CJK JP", "fontSize": 10, "fontWeight": "bold", "color": "#222222"},
 "data": {"values": [{}]}, "mark": "text", "encoding": {"text": {"value": ""}}},
{"width":11,"height":19,"view":{"fill":"#ffffff","stroke":null},"data":{"values":[{}]},"mark":"text","encoding":{"text":{"value":""}}},
{"width": 223, "height": 19, "view": {"fill": "#dbeef0", "stroke": null},
 "title": {"text": "米ドル／NZドル", "orient": "bottom", "anchor": "start", "offset": -9.5, "dx": 2, "baseline": "middle", "font": "Noto Sans CJK JP", "fontSize": 10, "fontWeight": "bold", "color": "#222222"},
 "data": {"values": [{}]}, "mark": "text", "encoding": {"text": {"value": ""}}},
{"width":4,"height":19,"view":{"fill":"#ffffff","stroke":null},"data":{"values":[{}]},"mark":"text","encoding":{"text":{"value":""}}},

{"width":5,"height":4,"view":{"fill":"#ffffff","stroke":null},"data":{"values":[{}]},"mark":"text","encoding":{"text":{"value":""}}},
{"width":224,"height":4,"view":{"stroke":null},"data":{"values":[{}]},"mark":"text","encoding":{"text":{"value":""}}},
{"width":11,"height":4,"view":{"fill":"#ffffff","stroke":null},"data":{"values":[{}]},"mark":"text","encoding":{"text":{"value":""}}},
{"width":223,"height":4,"view":{"stroke":null},"data":{"values":[{}]},"mark":"text","encoding":{"text":{"value":""}}},
{"width":4,"height":4,"view":{"fill":"#ffffff","stroke":null},"data":{"values":[{}]},"mark":"text","encoding":{"text":{"value":""}}},

{"width":5,"height":125,"view":{"fill":"#ffffff","stroke":null},"data":{"values":[{}]},"mark":"text","encoding":{"text":{"value":""}}},
{"width": 197, "height": 125, "view": {"fill": "#ffffff", "stroke": "#9a9a9a"},
 "encoding": {
  "x": {"field": "i", "type": "quantitative", "scale": {"domain": [-0.5, 70.5], "nice": false, "zero": false},
   "axis": {"values": [2, 15, 28, 41, 54, 67], "labelExpr": "datum.value == 15 ? '4/6' : datum.value == 28 ? '4/23' : datum.value == 41 ? '5/12' : datum.value == 54 ? '5/29' : datum.value == 67 ? '6/17' : ''", "title": null, "grid": true, "gridColor": "#d6d6d6", "ticks": false, "domain": false, "labelFont": "DejaVu Sans Mono", "labelFontSize": 8, "labelFontWeight": "bold", "labelColor": "#333333", "labelPadding": 3, "labelFlush": false, "labelOverlap": false}},
  "y": {"field": "v", "type": "quantitative", "scale": {"domain": [1.189, 1.558], "nice": false, "zero": false},
   "axis": {"orient": "right", "values": [1.2, 1.3, 1.4, 1.5], "format": ".1f", "title": null, "grid": true, "gridColor": "#d6d6d6", "ticks": false, "domain": false, "labelFont": "DejaVu Sans Mono", "labelFontSize": 8, "labelFontWeight": "bold", "labelColor": "#333333", "labelPadding": 2, "labelOverlap": false}}
 },
 "layer": [
  {"data": {"name": "c3"}, "mark": {"type": "rule", "strokeWidth": 1}, "encoding": {"y": {"field": "l", "type": "quantitative", "scale": {"domain": [1.189, 1.558], "nice": false, "zero": false}, "axis": null}, "y2": {"field": "h"}, "color": {"condition": {"test": "datum.c >= datum.o", "value": "#e5683d"}, "value": "#3d7fc6"}}},
  {"data": {"name": "c3"}, "mark": {"type": "bar", "size": 2.2, "orient": "vertical", "strokeWidth": 0.8}, "encoding": {"y": {"field": "o", "type": "quantitative", "scale": {"domain": [1.189, 1.558], "nice": false, "zero": false}, "axis": null}, "y2": {"field": "c"}, "fill": {"condition": {"test": "datum.c >= datum.o", "value": "#f7c0ad"}, "value": "#3d7fc6"}, "stroke": {"condition": {"test": "datum.c >= datum.o", "value": "#e5683d"}, "value": "#3d7fc6"}}},
  {"data": {"name": "p3"}, "mark": {"type": "line", "color": "#cf6f9e", "strokeWidth": 1.1, "interpolate": "monotone"}, "encoding": {}},
  {"data": {"name": "g3"}, "mark": {"type": "line", "color": "#3dbf7a", "strokeWidth": 1.3, "interpolate": "monotone"}, "encoding": {}},
  {"data": {"values": [{"i": -0.5, "v": 1.558, "t": "日足"}]}, "mark": {"type": "text", "align": "left", "baseline": "top", "dx": 2, "dy": 3, "font": "Noto Sans CJK JP", "fontSize": 11, "color": "#4fc3f7"}, "encoding": {"text": {"field": "t"}}},
  {"data": {"values": [{"i": 60.40, "v": 1.3927}]}, "mark": {"type": "point", "shape": "M -1 -0.69 L 0.19 -0.69 L 1 0.69 Z", "size": 1024, "filled": true, "color": "#ffc000", "stroke": "#555555", "strokeWidth": 1, "opacity": 1}},
  {"data": {"values": [{"i": 38.53, "i2": 67.61, "v": 1.5196, "v2": 1.4261}]}, "mark": {"type": "rect", "fill": "#ffc000", "stroke": "#555555", "strokeWidth": 1, "cornerRadius": 9}, "encoding": {"x2": {"field": "i2"}, "y2": {"field": "v2"}}},
  {"data": {"values": [{"i": 60.40, "v": 1.3927}]}, "mark": {"type": "point", "shape": "M -0.8 -0.77 L 0.1 -0.77 L 0.3 0.05 Z", "size": 1024, "filled": true, "color": "#ffc000", "strokeWidth": 0, "opacity": 1}},
  {"data": {"values": [{"i": 53.09, "v": 1.4724, "t": "年後半は\n米ドル高？"}]}, "mark": {"type": "text", "lineBreak": "\n", "font": "Noto Sans CJK JP", "fontSize": 11, "lineHeight": 13.5, "color": "#111111"}, "encoding": {"text": {"field": "t"}}},
  {"data": {"values": [{"i": 67.97, "v": 1.2953}, {"i": 70.38, "v": 1.3130}, {"i": 72.76, "v": 1.3307}]}, "mark": {"type": "point", "shape": "diamond", "size": 30, "filled": true, "color": "#ff6a10", "opacity": 1}},
  {"data": {"values": [{"i": 74.64, "v": 1.3476}]}, "mark": {"type": "point", "shape": "M -1 -1 L 1 -1 L 1 1 Z", "size": 169, "filled": true, "color": "#ff6a10", "opacity": 1}}
 ]},
{"width":11,"height":125,"view":{"fill":"#ffffff","stroke":null},"data":{"values":[{}]},"mark":"text","encoding":{"text":{"value":""}}},
{"width": 196, "height": 125, "view": {"fill": "#ffffff", "stroke": "#9a9a9a"},
 "encoding": {
  "x": {"field": "i", "type": "quantitative", "scale": {"domain": [-0.5, 70.5], "nice": false, "zero": false},
   "axis": {"values": [2, 15, 28, 41, 54, 67], "labelExpr": "datum.value == 15 ? '4/6' : datum.value == 28 ? '4/23' : datum.value == 41 ? '5/12' : datum.value == 54 ? '5/29' : datum.value == 67 ? '6/17' : ''", "title": null, "grid": true, "gridColor": "#d6d6d6", "ticks": false, "domain": false, "labelFont": "DejaVu Sans Mono", "labelFontSize": 8, "labelFontWeight": "bold", "labelColor": "#333333", "labelPadding": 3, "labelFlush": false, "labelOverlap": false}},
  "y": {"field": "v", "type": "quantitative", "scale": {"domain": [1.486, 1.973], "nice": false, "zero": false},
   "axis": {"orient": "right", "values": [1.5, 1.6, 1.7, 1.8, 1.9], "format": ".1f", "title": null, "grid": true, "gridColor": "#d6d6d6", "ticks": false, "domain": false, "labelFont": "DejaVu Sans Mono", "labelFontSize": 8, "labelFontWeight": "bold", "labelColor": "#333333", "labelPadding": 2, "labelOverlap": false}}
 },
 "layer": [
  {"data": {"name": "c4"}, "mark": {"type": "rule", "strokeWidth": 1}, "encoding": {"y": {"field": "l", "type": "quantitative", "scale": {"domain": [1.486, 1.973], "nice": false, "zero": false}, "axis": null}, "y2": {"field": "h"}, "color": {"condition": {"test": "datum.c >= datum.o", "value": "#e5683d"}, "value": "#3d7fc6"}}},
  {"data": {"name": "c4"}, "mark": {"type": "bar", "size": 2.2, "orient": "vertical", "strokeWidth": 0.8}, "encoding": {"y": {"field": "o", "type": "quantitative", "scale": {"domain": [1.486, 1.973], "nice": false, "zero": false}, "axis": null}, "y2": {"field": "c"}, "fill": {"condition": {"test": "datum.c >= datum.o", "value": "#f7c0ad"}, "value": "#3d7fc6"}, "stroke": {"condition": {"test": "datum.c >= datum.o", "value": "#e5683d"}, "value": "#3d7fc6"}}},
  {"data": {"name": "p4"}, "mark": {"type": "line", "color": "#cf6f9e", "strokeWidth": 1.1, "interpolate": "monotone"}, "encoding": {}},
  {"data": {"name": "g4"}, "mark": {"type": "line", "color": "#3dbf7a", "strokeWidth": 1.3, "interpolate": "monotone"}, "encoding": {}},
  {"data": {"values": [{"i": -0.5, "v": 1.973, "t": "日足"}]}, "mark": {"type": "text", "align": "left", "baseline": "top", "dx": 2, "dy": 3, "font": "Noto Sans CJK JP", "fontSize": 11, "color": "#4fc3f7"}, "encoding": {"text": {"field": "t"}}},
  {"data": {"values": [{"i": 62.70, "v": 1.7139}]}, "mark": {"type": "point", "shape": "M -1 -0.91 L 0.04 -0.91 L 1 0.91 Z", "size": 529, "filled": true, "color": "#ffc000", "stroke": "#555555", "strokeWidth": 1, "opacity": 1}},
  {"data": {"values": [{"i": 39.81, "i2": 67.59, "v": 1.8768, "v2": 1.7537}]}, "mark": {"type": "rect", "fill": "#ffc000", "stroke": "#555555", "strokeWidth": 1, "cornerRadius": 9}, "encoding": {"x2": {"field": "i2"}, "y2": {"field": "v2"}}},
  {"data": {"values": [{"i": 62.70, "v": 1.7139}]}, "mark": {"type": "point", "shape": "M -0.75 -1.02 L -0.08 -1.02 L 0.3 0.1 Z", "size": 529, "filled": true, "color": "#ffc000", "strokeWidth": 0, "opacity": 1}},
  {"data": {"values": [{"i": 53.72, "v": 1.8152, "t": "年後半は\n米ドル高？"}]}, "mark": {"type": "text", "lineBreak": "\n", "font": "Noto Sans CJK JP", "fontSize": 11, "lineHeight": 13.5, "color": "#111111"}, "encoding": {"text": {"field": "t"}}},
  {"data": {"values": [{"i": 70.02, "v": 1.6173}, {"i": 72.66, "v": 1.6368}]}, "mark": {"type": "point", "shape": "diamond", "size": 30, "filled": true, "color": "#ff6a10", "opacity": 1}},
  {"data": {"values": [{"i": 76.65, "v": 1.6633}]}, "mark": {"type": "point", "shape": "M -1 -1 L 1 -1 L 1 1 Z", "size": 196, "filled": true, "color": "#ff6a10", "opacity": 1}}
 ]},
{"width":4,"height":125,"view":{"fill":"#ffffff","stroke":null},"data":{"values":[{}]},"mark":"text","encoding":{"text":{"value":""}}},

{"width":5,"height":16,"view":{"fill":"#ffffff","stroke":null},"data":{"values":[{}]},"mark":"text","encoding":{"text":{"value":""}}},
{"width":224,"height":16,"view":{"stroke":null},"data":{"values":[{}]},"mark":"text","encoding":{"text":{"value":""}}},
{"width":11,"height":16,"view":{"fill":"#ffffff","stroke":null},"data":{"values":[{}]},"mark":"text","encoding":{"text":{"value":""}}},
{"width":223,"height":16,"view":{"stroke":null},"data":{"values":[{}]},"mark":"text","encoding":{"text":{"value":""}}},
{"width":4,"height":16,"view":{"fill":"#ffffff","stroke":null},"data":{"values":[{}]},"mark":"text","encoding":{"text":{"value":""}}},

{"width":5,"height":40,"view":{"fill":"#ffffff","stroke":null},"data":{"values":[{}]},"mark":"text","encoding":{"text":{"value":""}}},
{"width":224,"height":40,"view":{"fill":"#ffffff","stroke":null},"data":{"values":[{}]},"mark":"text","encoding":{"text":{"value":""}}},
{"width":11,"height":40,"view":{"fill":"#ffffff","stroke":null},"data":{"values":[{}]},"mark":"text","encoding":{"text":{"value":""}}},
{"width":223,"height":40,"view":{"fill":"#ffffff","stroke":null},"data":{"values":[{}]},"mark":"text","encoding":{"text":{"value":""}}},
{"width":4,"height":40,"view":{"fill":"#ffffff","stroke":null},"data":{"values":[{}]},"mark":"text","encoding":{"text":{"value":""}}}
]
}
